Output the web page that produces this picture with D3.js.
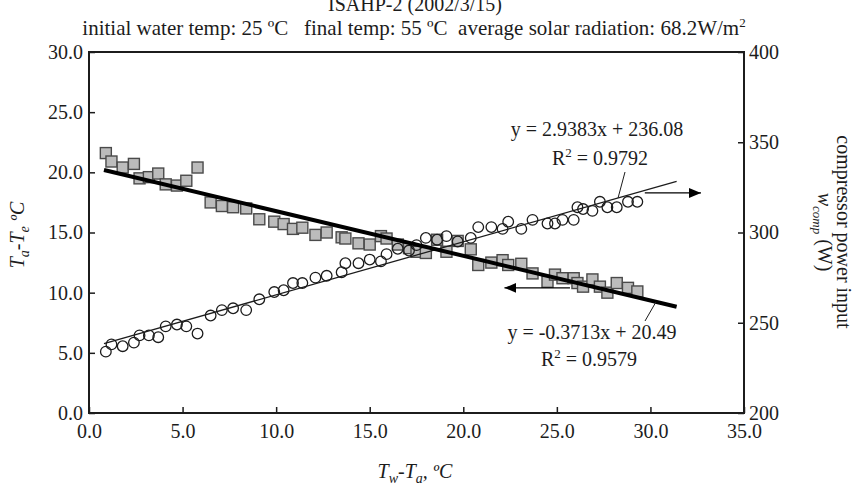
<!DOCTYPE html>
<html>
<head>
<meta charset="utf-8">
<script src="https://cdn.jsdelivr.net/npm/d3@7"></script>
<style>
  body { margin: 0; background: #fff; }
  svg { display: block; font-family: "Liberation Serif", "Times New Roman", serif; }
</style>
</head>
<body>
<div id="chart"></div>
<script>
// Tw-Ta (x), Ta-Te (squares, left axis), compressor power (circles, right axis)
const tempDiff = [0.9, 1.2, 1.8, 2.4, 2.7, 3.2, 3.7, 4.1, 4.7, 5.2, 5.8, 6.5, 7.1, 7.7, 8.4, 9.1,
  9.9, 10.4, 10.9, 11.4, 12.1, 12.7, 13.5, 13.7, 14.4, 15.0, 15.6, 15.9, 16.5, 17.1, 17.5, 18.0,
  18.6, 19.1, 19.7, 20.4, 20.8, 21.5, 22.1, 22.4, 23.1, 23.7, 24.5, 24.9, 25.3, 25.9, 26.1, 26.4,
  26.9, 27.3, 27.7, 28.2, 28.8, 29.3];
const deltaT = [21.6, 20.9, 20.4, 20.7, 19.5, 19.6, 19.9, 19.0, 18.9, 19.3, 20.4, 17.5, 17.2, 17.1,
  17.0, 16.1, 15.9, 15.7, 15.3, 15.4, 14.8, 15.0, 14.6, 14.5, 14.1, 14.0, 14.7, 14.5, 14.0, 13.7,
  13.4, 13.3, 14.4, 13.4, 14.3, 13.6, 12.3, 12.5, 12.7, 12.3, 12.4, 11.6, 10.9, 11.5, 11.2, 11.2,
  10.8, 10.5, 11.1, 10.5, 10.0, 10.8, 10.4, 10.1];
const compPower = [234, 238, 237, 239, 243, 243, 242, 248, 249, 248, 244, 254, 257, 258, 257, 263,
  267, 268, 272, 272, 275, 276, 278, 283, 283, 285, 284, 288, 291, 290, 293, 297, 296, 298, 295,
  297, 303, 303, 302, 306, 302, 307, 305, 305, 307, 307, 314, 313, 312, 317, 314, 314, 317, 317];

const xTicks = [0, 5, 10, 15, 20, 25, 30, 35];
const leftTicks = [0, 5, 10, 15, 20, 25, 30];
const rightTicks = [200, 250, 300, 350, 400];

// trendlines: [slope, intercept]
const fitDeltaT = [-0.3713, 20.49];
const fitPower = [2.9383, 236.08];
const fitRange = [0.8, 31.4];

const width = 854, height = 489;
const margin = { top: 52, right: 110, bottom: 76, left: 89 };
const ink = "#1c1c1c";

const svg = d3.select("#chart").append("svg")
  .attr("width", width)
  .attr("height", height);

const x = d3.scaleLinear().domain([0, 35]).range([margin.left, width - margin.right]);
const yL = d3.scaleLinear().domain([0, 30]).range([height - margin.bottom, margin.top]);
const yR = d3.scaleLinear().domain([200, 400]).range([height - margin.bottom, margin.top]);

const rows = tempDiff.map((t, i) => ({ t, dT: deltaT[i], w: compPower[i] }));

// axes
function styleAxis(g) {
  g.select(".domain").remove();
  g.selectAll(".tick line").attr("stroke", ink).attr("stroke-width", 1.5);
  g.selectAll(".tick text").attr("fill", ink).attr("font-size", 20)
    .attr("font-family", "Liberation Serif, serif");
}

svg.append("g")
  .attr("transform", `translate(0,${yL(0)})`)
  .call(d3.axisBottom(x).tickValues(xTicks).tickSize(-6).tickPadding(11).tickFormat(d3.format(".1f")))
  .call(styleAxis);

svg.append("g")
  .attr("transform", `translate(${x(0)},0)`)
  .call(d3.axisLeft(yL).tickValues(leftTicks).tickSize(-6).tickPadding(6).tickFormat(d3.format(".1f")))
  .call(styleAxis);

svg.append("g")
  .attr("transform", `translate(${x(35)},0)`)
  .call(d3.axisRight(yR).tickValues(rightTicks).tickSize(-6).tickPadding(5).tickFormat(d3.format("d")))
  .call(styleAxis);

// frame
svg.append("rect")
  .attr("x", x(0)).attr("y", yL(30))
  .attr("width", x(35) - x(0)).attr("height", yL(0) - yL(30))
  .attr("fill", "none").attr("stroke", ink).attr("stroke-width", 2);

// squares
const sq = 11;
svg.append("g").selectAll("rect")
  .data(rows)
  .join("rect")
  .attr("x", d => x(d.t) - sq / 2)
  .attr("y", d => yL(d.dT) - sq / 2)
  .attr("width", sq).attr("height", sq)
  .attr("fill", "#bcbcbc").attr("stroke", "#4a4a4a").attr("stroke-width", 1.4);

// circles
svg.append("g").selectAll("circle")
  .data(rows)
  .join("circle")
  .attr("cx", d => x(d.t))
  .attr("cy", d => yR(d.w))
  .attr("r", 5.3)
  .attr("fill", "none").attr("stroke", ink).attr("stroke-width", 1.3);

// trendlines
const fitLine = (scale, f) => d3.line()
  .x(d => x(d))
  .y(d => scale(f[0] * d + f[1]));

svg.append("path")
  .attr("d", fitLine(yR, fitPower)(fitRange))
  .attr("stroke", ink).attr("stroke-width", 1.3).attr("fill", "none");

svg.append("path")
  .attr("d", fitLine(yL, fitDeltaT)(fitRange))
  .attr("stroke", "#000").attr("stroke-width", 4).attr("fill", "none");

// arrows
const defs = svg.append("defs");
defs.append("marker")
  .attr("id", "head")
  .attr("viewBox", "0 0 12 10")
  .attr("refX", 12).attr("refY", 5)
  .attr("markerWidth", 12).attr("markerHeight", 10)
  .attr("markerUnits", "userSpaceOnUse")
  .attr("orient", "auto")
  .append("path").attr("d", "M0,0L12,5L0,10Z").attr("fill", "#000");

svg.append("line")
  .attr("x1", x(29.7)).attr("y1", yR(321.9))
  .attr("x2", x(32.7)).attr("y2", yR(321.9))
  .attr("stroke", "#000").attr("stroke-width", 1.3)
  .attr("marker-end", "url(#head)");

svg.append("line")
  .attr("x1", x(25.7)).attr("y1", yL(10.4))
  .attr("x2", x(22.2)).attr("y2", yL(10.4))
  .attr("stroke", "#000").attr("stroke-width", 1.3)
  .attr("marker-end", "url(#head)");

// equation labels and leader lines
function rLabel(cx, cy, val) {
  const t = svg.append("text").attr("x", cx).attr("y", cy)
    .attr("text-anchor", "middle").attr("font-size", 20).attr("fill", ink);
  t.append("tspan").text("R");
  t.append("tspan").attr("font-size", 13).attr("dy", -8).text("2");
  t.append("tspan").attr("dy", 8).text(" = " + val);
}

svg.append("text").attr("x", 597).attr("y", 136)
  .attr("text-anchor", "middle").attr("font-size", 20).attr("fill", ink)
  .text("y = 2.9383x + 236.08");
rLabel(600, 165, "0.9792");
svg.append("line")
  .attr("x1", 625).attr("y1", 172).attr("x2", x(28.27)).attr("y2", yR(fitPower[0] * 28.27 + fitPower[1]))
  .attr("stroke", ink).attr("stroke-width", 1);

svg.append("text").attr("x", 592).attr("y", 339)
  .attr("text-anchor", "middle").attr("font-size", 20).attr("fill", ink)
  .text("y = -0.3713x + 20.49");
rLabel(589, 366, "0.9579");
svg.append("line")
  .attr("x1", 645).attr("y1", 321).attr("x2", x(30.3)).attr("y2", yL(fitDeltaT[0] * 30.3 + fitDeltaT[1]))
  .attr("stroke", ink).attr("stroke-width", 1);

// titles
svg.append("text").attr("x", 415).attr("y", 11)
  .attr("text-anchor", "middle").attr("font-size", 20).attr("fill", ink)
  .text("ISAHP-2 (2002/3/15)");

const sub = svg.append("text").attr("x", 414).attr("y", 35)
  .attr("text-anchor", "middle").attr("font-size", 21).attr("fill", ink)
  .attr("xml:space", "preserve").style("white-space", "pre");
sub.append("tspan").text("initial water temp: 25 ºC   final temp: 55 ºC  average solar radiation: 68.2W/m");
sub.append("tspan").attr("font-size", 13).attr("dy", -8).text("2");

// x title
const xt = svg.append("text").attr("x", 415).attr("y", 478)
  .attr("text-anchor", "middle").attr("font-size", 20).attr("font-style", "italic").attr("fill", ink);
xt.append("tspan").text("T");
xt.append("tspan").attr("font-size", 14).attr("dy", 5).text("w");
xt.append("tspan").attr("dy", -5).text("-T");
xt.append("tspan").attr("font-size", 14).attr("dy", 5).text("a");
xt.append("tspan").attr("dy", -5).text(", ºC");

// left title
const yt = svg.append("text")
  .attr("transform", "translate(24,235) rotate(-90)")
  .attr("text-anchor", "middle").attr("font-size", 20).attr("font-style", "italic").attr("fill", ink);
yt.append("tspan").text("T");
yt.append("tspan").attr("font-size", 14).attr("dy", 5).text("a");
yt.append("tspan").attr("dy", -5).text("-T");
yt.append("tspan").attr("font-size", 14).attr("dy", 5).text("e");
yt.append("tspan").attr("dy", -5).text(" ºC");

// right title
svg.append("text")
  .attr("transform", "translate(837,232) rotate(90)")
  .attr("text-anchor", "middle").attr("font-size", 20).attr("fill", ink)
  .text("compressor power input");

const rt = svg.append("text")
  .attr("transform", "translate(818,232) rotate(90)")
  .attr("text-anchor", "middle").attr("font-size", 20).attr("fill", ink);
rt.append("tspan").attr("font-style", "italic").text("w");
rt.append("tspan").attr("font-style", "italic").attr("font-size", 13).attr("dy", 5).text("comp");
rt.append("tspan").attr("dy", -5).text(" (W)");
</script>
</body>
</html>
